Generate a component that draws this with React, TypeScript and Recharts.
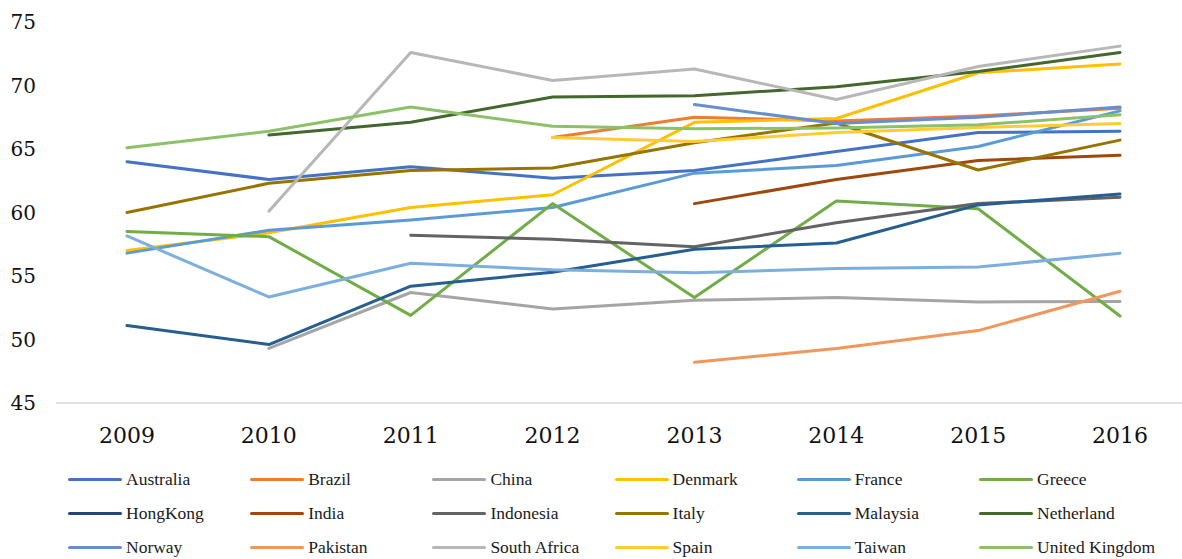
import React from 'react';
import { LineChart, Line, XAxis, YAxis } from 'recharts';

const years = ['2009', '2010', '2011', '2012', '2013', '2014', '2015', '2016'];
const yTicks = [45, 50, 55, 60, 65, 70, 75];

// index values per country, null where there is no data
const australia = [64.0, 62.6, 63.6, 62.7, 63.3, 64.8, 66.3, 66.4];
const brazil = [null, null, null, 65.9, 67.5, 67.2, 67.6, 68.2];
const china = [null, 49.3, 53.7, 52.4, 53.1, 53.3, 52.95, 53.0];
const denmark = [57.0, 58.4, 60.4, 61.4, 67.1, 67.4, 71.0, 71.7];
const france = [56.8, 58.6, 59.4, 60.4, 63.1, 63.7, 65.2, 68.0];
const greece = [58.5, 58.1, 51.9, 60.7, 53.3, 60.9, 60.3, 51.85];
const hongKong = [null, null, null, null, null, null, null, null];
const india = [null, null, null, null, 60.7, 62.6, 64.1, 64.5];
const indonesia = [null, null, 58.2, 57.9, 57.3, 59.2, 60.7, 61.2];
const italy = [60.0, 62.3, 63.3, 63.5, 65.5, 67.05, 63.35, 65.7];
const malaysia = [51.1, 49.6, 54.2, 55.3, 57.1, 57.6, 60.6, 61.45];
const netherland = [null, 66.1, 67.1, 69.1, 69.2, 69.9, 71.1, 72.6];
const norway = [null, null, null, null, 68.5, 67.0, 67.5, 68.3];
const pakistan = [null, null, null, null, 48.2, 49.3, 50.7, 53.8];
const southAfrica = [null, 60.1, 72.6, 70.4, 71.3, 68.9, 71.5, 73.1];
const spain = [null, null, null, 65.9, 65.6, 66.3, 66.7, 67.0];
const taiwan = [58.15, 53.35, 56.0, 55.5, 55.25, 55.6, 55.7, 56.8];
const unitedKingdom = [65.1, 66.4, 68.3, 66.8, 66.6, 66.65, 66.9, 67.7];

const series = [
  { name: 'Australia', values: australia, color: '#4472C4' },
  { name: 'Brazil', values: brazil, color: '#ED7D31' },
  { name: 'China', values: china, color: '#A5A5A5' },
  { name: 'Denmark', values: denmark, color: '#FFC000' },
  { name: 'France', values: france, color: '#5B9BD5' },
  { name: 'Greece', values: greece, color: '#70AD47' },
  { name: 'HongKong', values: hongKong, color: '#264478' },
  { name: 'India', values: india, color: '#9E480E' },
  { name: 'Indonesia', values: indonesia, color: '#636363' },
  { name: 'Italy', values: italy, color: '#997300' },
  { name: 'Malaysia', values: malaysia, color: '#255E91' },
  { name: 'Netherland', values: netherland, color: '#43682B' },
  { name: 'Norway', values: norway, color: '#698ED0' },
  { name: 'Pakistan', values: pakistan, color: '#F1975A' },
  { name: 'South Africa', values: southAfrica, color: '#B7B7B7' },
  { name: 'Spain', values: spain, color: '#FFCD33' },
  { name: 'Taiwan', values: taiwan, color: '#7CAFDD' },
  { name: 'United Kingdom', values: unitedKingdom, color: '#8CC168' },
];

const data = years.map((year, i) => {
  const row: Record<string, string | number | null> = { year };
  series.forEach((s) => {
    row[s.name] = s.values[i];
  });
  return row;
});

const serif = "'DejaVu Serif', 'Liberation Serif', serif";
const tickFont = { fontFamily: serif, fill: '#111' };

function ChartLegend() {
  return (
    <div style={{ position: 'absolute', left: 0, top: 0, width: 1182, height: 559, pointerEvents: 'none' }}>
      {series.map((s, i) => {
        const col = i % 6;
        const row = Math.floor(i / 6);
        return (
          <div
            key={s.name}
            style={{
              position: 'absolute',
              left: 68 + col * 182.2,
              top: 469 + row * 34,
              height: 20,
              display: 'flex',
              alignItems: 'center',
              whiteSpace: 'nowrap',
            }}
          >
            <span
              style={{
                display: 'inline-block',
                width: 54,
                height: 3,
                borderRadius: 2,
                background: s.color,
                marginRight: 4,
              }}
            />
            <span style={{ fontFamily: 'Liberation Serif', fontSize: 17.5, color: '#1a1a1a' }}>{s.name}</span>
          </div>
        );
      })}
    </div>
  );
}

export default function App() {
  return (
    <div
      style={{
        position: 'absolute',
        left: 0,
        top: 0,
        width: 1182,
        height: 559,
        overflow: 'hidden',
        background: '#fff',
        fontFamily: serif,
      }}
    >
      <LineChart
        width={1200}
        height={559}
        data={data}
        margin={{ top: 22, right: 9, left: 0, bottom: 126 }}
        style={{ fontFamily: serif }}
      >
        <XAxis
          dataKey="year"
          height={30}
          padding={{ left: 71, right: 71 }}
          axisLine={{ stroke: '#D9D9D9', strokeWidth: 1.5 }}
          tickLine={false}
          tickSize={6}
          tickMargin={18}
          tick={{ ...tickFont, fontSize: 22 }}
          interval={0}
        />
        <YAxis
          width={56}
          domain={[45, 75]}
          ticks={yTicks}
          axisLine={false}
          tickLine={false}
          tickSize={6}
          tickMargin={14}
          tick={{ ...tickFont, fontSize: 20 }}
          interval={0}
        />
        {series.map((s) => (
          <Line
            key={s.name}
            type="linear"
            dataKey={s.name}
            stroke={s.color}
            strokeWidth={3}
            strokeLinecap="round"
            strokeLinejoin="round"
            dot={false}
            activeDot={false}
            isAnimationActive={false}
          />
        ))}
      </LineChart>
      <ChartLegend />
    </div>
  );
}
